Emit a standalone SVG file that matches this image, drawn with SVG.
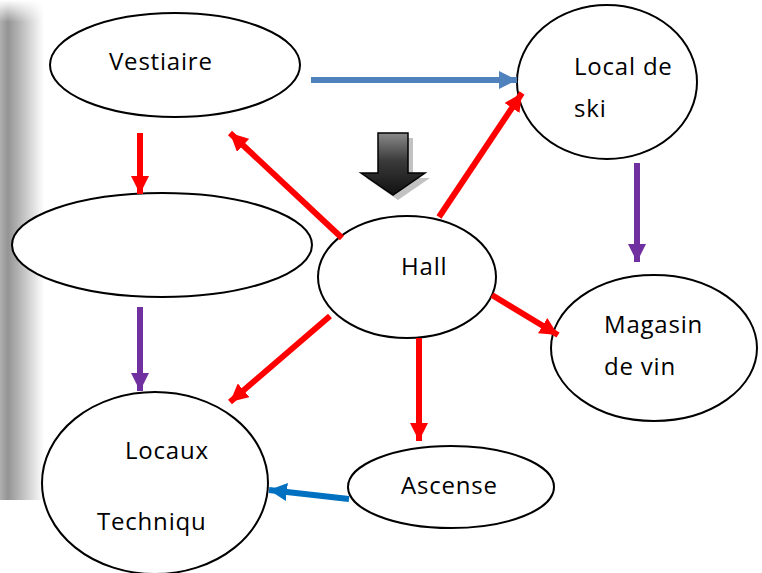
<svg xmlns="http://www.w3.org/2000/svg" width="762" height="573" viewBox="0 0 762 573">
<defs>
<linearGradient id="shade" x1="0" y1="0" x2="1" y2="0">
<stop offset="0" stop-color="#b0b0b0"/>
<stop offset="0.18" stop-color="#949494"/>
<stop offset="1" stop-color="#ffffff"/>
</linearGradient>
<linearGradient id="shadeTop" x1="0" y1="0" x2="0" y2="1">
<stop offset="0" stop-color="#fff" stop-opacity="1"/>
<stop offset="1" stop-color="#fff" stop-opacity="0"/>
</linearGradient>
<linearGradient id="arrowFill" x1="0" y1="0" x2="0" y2="1">
<stop offset="0" stop-color="#8a8a8a"/>
<stop offset="0.45" stop-color="#3a3a3a"/>
<stop offset="1" stop-color="#111"/>
</linearGradient>
<marker id="hRed" viewBox="0 0 10 10" refX="10" refY="5" markerWidth="3" markerHeight="3" orient="auto" markerUnits="strokeWidth"><path d="M0,0 L10,5 L0,10 Z" fill="#ff0000"/></marker>
<marker id="hPur" viewBox="0 0 10 10" refX="10" refY="5" markerWidth="3" markerHeight="3" orient="auto" markerUnits="strokeWidth"><path d="M0,0 L10,5 L0,10 Z" fill="#7030a0"/></marker>
<marker id="hBlue" viewBox="0 0 10 10" refX="10" refY="5" markerWidth="3" markerHeight="3" orient="auto" markerUnits="strokeWidth"><path d="M0,0 L10,5 L0,10 Z" fill="#4f81bd"/></marker>
<marker id="hBlue2" viewBox="0 0 10 10" refX="10" refY="5" markerWidth="3" markerHeight="3" orient="auto" markerUnits="strokeWidth"><path d="M0,0 L10,5 L0,10 Z" fill="#0070c0"/></marker>
</defs>
<style>
.node ellipse{fill:#fff;stroke:#000;stroke-width:2}
text{font-family:"Open Sans","Liberation Sans",sans-serif;font-size:24px;letter-spacing:0.8px;fill:#000}
.c{fill:none;stroke-width:6}
.red{stroke:#ff0000;marker-end:url(#hRed)}
.pur{stroke:#7030a0;marker-end:url(#hPur)}
.blue{stroke:#4f81bd;marker-end:url(#hBlue)}
.blue2{stroke:#0070c0;marker-end:url(#hBlue2)}
</style>
<rect width="762" height="573" fill="#fff"/>
<rect x="0" y="0" width="44" height="500" fill="url(#shade)"/>
<rect x="0" y="0" width="44" height="22" fill="url(#shadeTop)"/>
<g id="bigArrow">
<path d="M383,138 H413 V178 H430 L398,200 L366,178 H383 Z" fill="#9a9a9a" opacity="0.6"/>
<path d="M378,133 H408 V173 H425 L393,195 L361,173 H378 Z" fill="url(#arrowFill)" stroke="#000" stroke-width="1.5"/>
</g>
<g id="nodes">
<g class="node" id="vestiaire"><ellipse cx="175" cy="65" rx="125" ry="52"/><text x="109" y="70">Vestiaire</text></g>
<g class="node" id="localski"><ellipse cx="607" cy="82" rx="90" ry="77"/><text x="574" y="75">Local de</text><text x="574" y="117">ski</text></g>
<g class="node" id="empty"><ellipse cx="162" cy="245" rx="150" ry="52"/></g>
<g class="node" id="hall"><ellipse cx="407" cy="277" rx="89" ry="61"/><text x="401" y="275">Hall</text></g>
<g class="node" id="magasin"><ellipse cx="654" cy="348" rx="103" ry="73"/><text x="604" y="333">Magasin</text><text x="604" y="375">de vin</text></g>
<g class="node" id="locaux"><ellipse cx="155" cy="483" rx="113" ry="91"/><text x="125" y="459">Locaux</text><text x="97" y="530">Techniqu</text></g>
<g class="node" id="ascense"><ellipse cx="451" cy="487" rx="103" ry="41"/><text x="401" y="494">Ascense</text></g>
</g>
<g id="connectors">
<line class="c blue" x1="311" y1="80" x2="517" y2="80"/>
<line class="c red" x1="140" y1="133" x2="140" y2="194"/>
<line class="c red" x1="342" y1="238" x2="230" y2="133"/>
<line class="c red" x1="439" y1="217" x2="522" y2="93"/>
<line class="c pur" x1="637" y1="163" x2="637" y2="262"/>
<line class="c pur" x1="140" y1="307" x2="140" y2="391"/>
<line class="c red" x1="330" y1="316" x2="230" y2="402"/>
<line class="c red" x1="419" y1="338" x2="419" y2="441"/>
<line class="c red" x1="492" y1="295" x2="558" y2="335"/>
<line class="c blue2" x1="349" y1="499" x2="269" y2="490"/>
</g>
</svg>
